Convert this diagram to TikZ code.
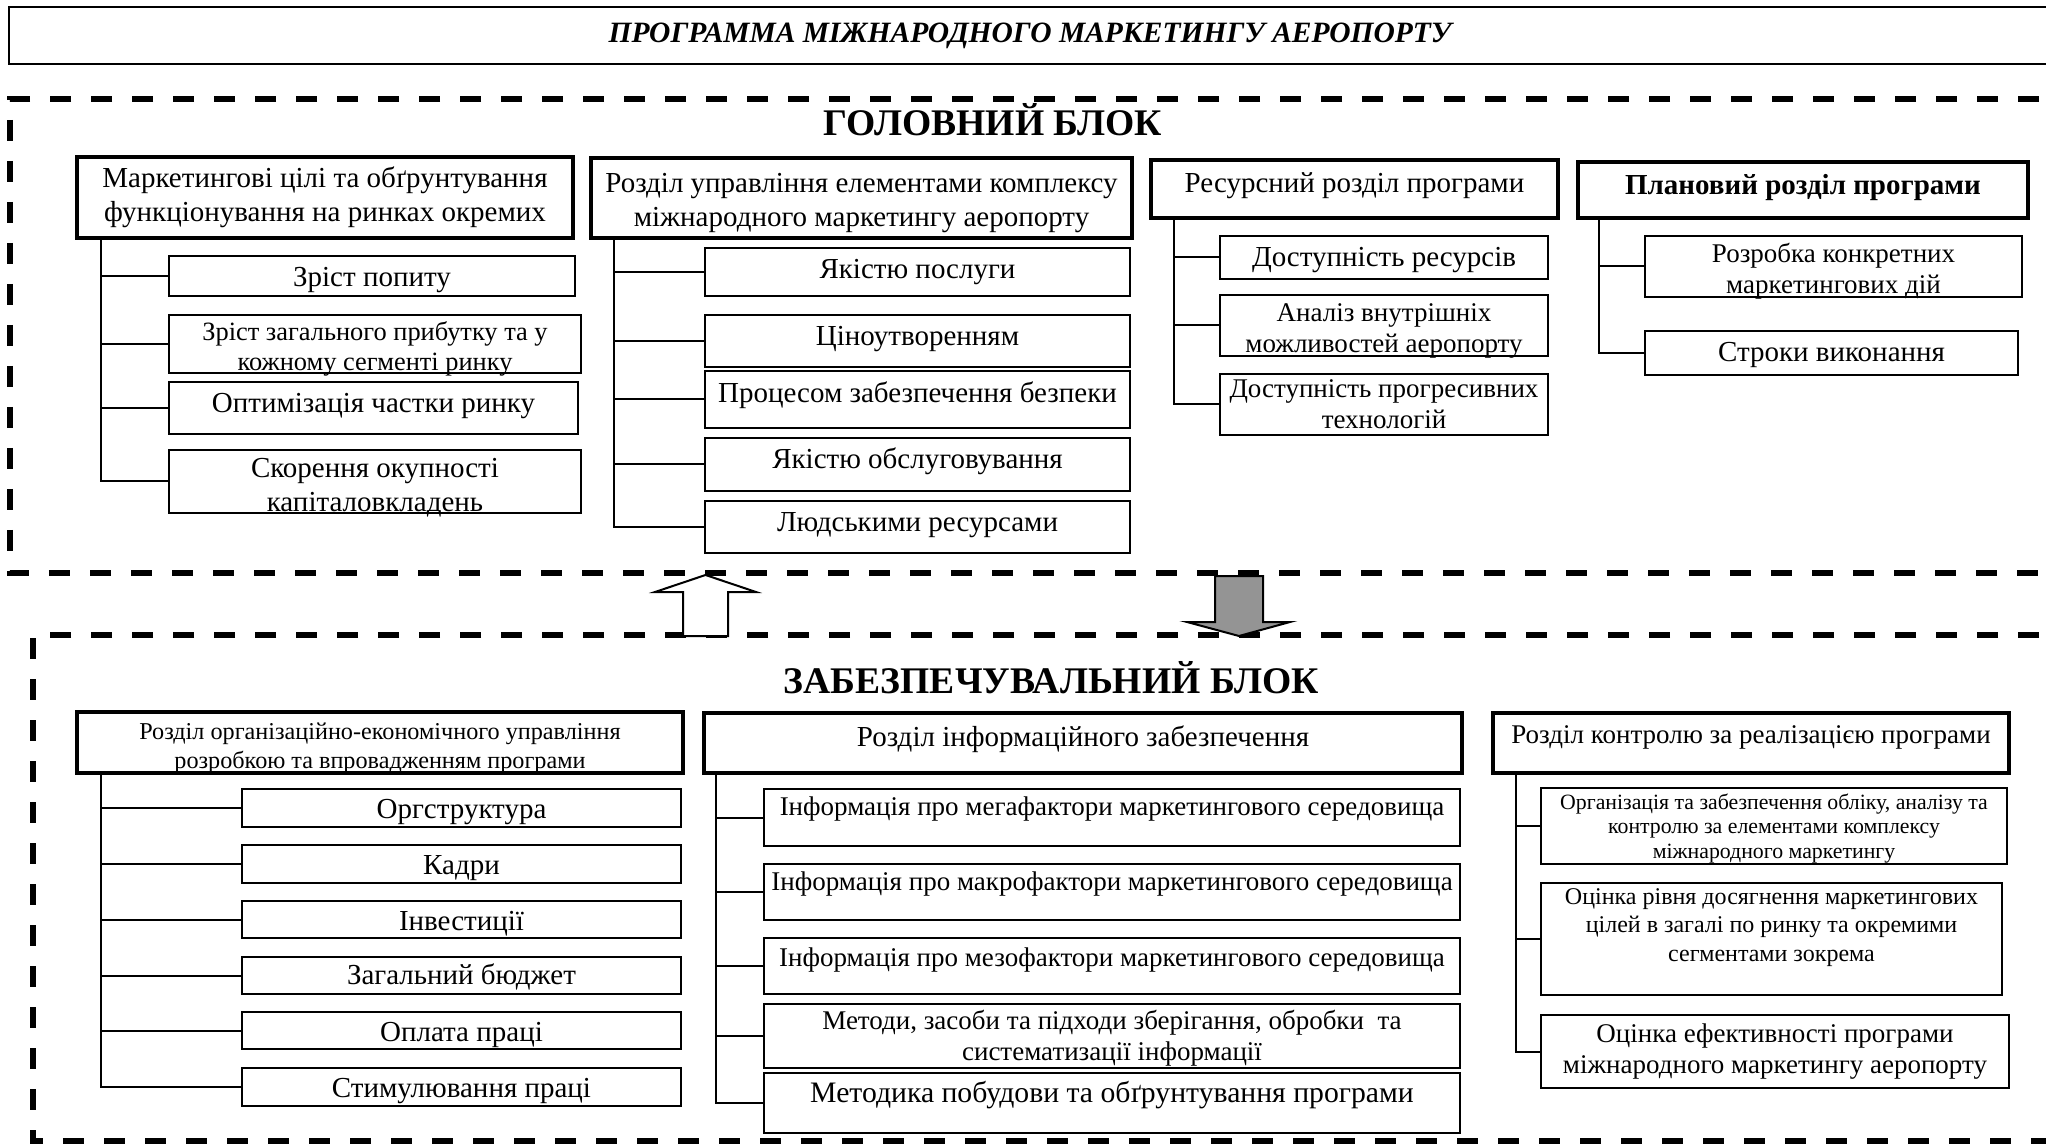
\documentclass[tikz,border=0pt]{standalone}
\usepackage{fontspec}
\setmainfont{Liberation Serif}
\usetikzlibrary{calc}

\begin{document}
\begin{tikzpicture}[x=0.5pt,y=-0.5pt,
    every node/.style={inner sep=0pt,align=center,font=\fontsize{14.5}{17}\selectfont},
    dims/.style 2 args={minimum width=#1*0.5pt,minimum height=#2*0.5pt},
    fs/.style 2 args={font=\fontsize{#1}{#2}\selectfont},
    tpos/.style 2 args={text height=#1,text depth=#2},
    secbox/.style={draw,line width=2.3pt,fill=white},
    itembox/.style={draw,line width=1pt,fill=white},
    wire/.style={line width=1pt},
    zone/.style={line width=2.6pt,dash pattern=on 10.5pt off 10pt},
    blockhd/.style={font=\fontsize{18.8}{20}\selectfont\bfseries},
    hollowarr/.style={draw,line width=1pt,fill=white},
    greyarr/.style={draw,line width=1pt,fill=black!42}]

    \useasboundingbox (0,0) rectangle (2046,1144);
    \clip (0,0) rectangle (2046,1144);

    \draw[zone] (2080,99) -- (10,99) -- (10,573) -- (2080,573);
    \draw[zone] (2080,635) -- (33,635) -- (33,1141) -- (2080,1141);

    \draw[hollowarr] (683,636) -- (683,592) -- (655,592) -- (705.5,575) -- (756,592)
        -- (728,592) -- (728,636) -- cycle;
    \draw[greyarr] (1215,576) -- (1263,576) -- (1263,622) -- (1290,622) -- (1239,636)
        -- (1187,622) -- (1215,622) -- cycle;

    \node[draw,line width=1.3pt,dims={2042}{57},font=\fontsize{14.75}{17}\selectfont\bfseries\itshape]
        (prog) at (1030,35.5) {ПРОГРАММА МІЖНАРОДНОГО МАРКЕТИНГУ АЕРОПОРТУ};

    \node[blockhd] (hmain) at (993,119.5) {ГОЛОВНИЙ БЛОК};
    \node[secbox,dims={496}{81}] (goals) at (325,197.5)
        {Маркетингові цілі та обґрунтування\\функціонування на ринках окремих};
    \node[secbox,dims={541}{80},tpos={28.4pt}{0pt}] (mix) at (861.5,198)
        {Розділ управління елементами комплексу\\міжнародного маркетингу аеропорту};
    \node[secbox,dims={407}{58},tpos={10pt}{6.5pt}] (res) at (1354.5,189) {Ресурсний розділ програми};
    \node[secbox,dims={450}{56},tpos={10pt}{5.5pt}] (plan) at (1803,190) {\textbf{Плановий розділ програми}};

    \node[itembox,dims={406}{40},tpos={14pt}{3.2pt}] (dem) at (372,276) {Зріст попиту};
    \node[itembox,dims={412}{58},fs={13.2}{15},tpos={26.6pt}{0pt}] (prof) at (375,344)
        {Зріст загального прибутку та у\\кожному сегменті ринку};
    \node[itembox,dims={409}{52},tpos={10pt}{5.8pt}] (share) at (373.5,408) {Оптимізація частки ринку};
    \node[itembox,dims={412}{63},tpos={30.4pt}{0pt}] (pay) at (375,481.5) {Скорення окупності\\капіталовкладень};

    \node[itembox,dims={425}{48}] (qs) at (917.5,272) {Якістю послуги};
    \node[itembox,dims={425}{52},tpos={10pt}{5.5pt}] (price) at (917.5,341) {Ціноутворенням};
    \node[itembox,dims={425}{57},tpos={10pt}{7pt}] (safe) at (917.5,399.5) {Процесом забезпечення безпеки};
    \node[itembox,dims={425}{53},tpos={10pt}{6pt}] (serv) at (917.5,464.5) {Якістю обслуговування};
    \node[itembox,dims={425}{52},tpos={10pt}{5.5pt}] (hr) at (917.5,527) {Людськими ресурсами};

    \node[itembox,dims={328}{43},tpos={12.6pt}{3.2pt}] (avail) at (1384,257.5) {Доступність ресурсів};
    \node[itembox,dims={328}{61},fs={13.5}{15.5},tpos={27pt}{0pt}] (intern) at (1384,325.5)
        {Аналіз внутрішніх\\можливостей аеропорту};
    \node[itembox,dims={328}{61},fs={13.5}{15.5},tpos={24.4pt}{0pt}] (tech) at (1384,404.5)
        {Доступність прогресивних\\технологій};

    \node[itembox,dims={377}{61},fs={13.5}{15.5},tpos={27pt}{0pt}] (acts) at (1833.5,266.5)
        {Розробка конкретних\\маркетингових дій};
    \node[itembox,dims={373}{44},tpos={11.3pt}{3.2pt}] (terms) at (1831.5,353) {Строки виконання};

    \node[blockhd] (hsup) at (1051,677.5) {ЗАБЕЗПЕЧУВАЛЬНИЙ БЛОК};
    \node[secbox,dims={606}{61},fs={12.1}{14.3},tpos={25.7pt}{0pt}] (org) at (380,742.5)
        {Розділ організаційно-економічного управління\\розробкою та впровадженням програми};
    \node[secbox,dims={758}{60},tpos={10pt}{6.5pt}] (info) at (1083,743) {Розділ інформаційного забезпечення};
    \node[secbox,dims={516}{60},fs={13.5}{15.5},tpos={10pt}{9.1pt}] (ctrl) at (1751,743)
        {Розділ контролю за реалізацією програми};

    \node[itembox,dims={439}{38},tpos={14pt}{3.2pt}] (struct) at (461.5,808) {Оргструктура};
    \node[itembox,dims={439}{38},tpos={14pt}{3.2pt}] (staff) at (461.5,864) {Кадри};
    \node[itembox,dims={439}{37},tpos={14pt}{3.2pt}] (inv) at (461.5,919.5) {Інвестиції};
    \node[itembox,dims={439}{37},tpos={12.6pt}{3.2pt}] (budg) at (461.5,975.5) {Загальний бюджет};
    \node[itembox,dims={439}{37},tpos={14pt}{3.2pt}] (wage) at (461.5,1030.5) {Оплата праці};
    \node[itembox,dims={439}{38},tpos={14pt}{3.2pt}] (stim) at (461.5,1087) {Стимулювання праці};

    \node[itembox,dims={696}{57},fs={13.5}{15.5},tpos={10pt}{12pt}] (mega) at (1112,817.5)
        {Інформація про мегафактори маркетингового середовища};
    \node[itembox,dims={696}{56},fs={13.5}{15.5},tpos={10pt}{12pt}] (macro) at (1112,892)
        {Інформація про макрофактори маркетингового середовища};
    \node[itembox,dims={696}{56},fs={13.5}{15.5},tpos={10pt}{10pt}] (meso) at (1112,966)
        {Інформація про мезофактори маркетингового середовища};
    \node[itembox,dims={696}{64},fs={13.5}{15.5},tpos={24.4pt}{0pt}] (meth) at (1112,1036)
        {Методи, засоби та підходи зберігання, обробки~ та\\систематизації інформації};
    \node[itembox,dims={696}{60},fs={14.85}{17},tpos={10pt}{10.9pt}] (plm) at (1112,1103)
        {Методика побудови та обґрунтування програми};

    \node[itembox,dims={466}{76},fs={10.9}{12.2},tpos={32.3pt}{0pt}] (acct) at (1774,826)
        {Організація та забезпечення обліку, аналізу та\\контролю за елементами комплексу\\міжнародного маркетингу};
    \node[itembox,dims={461}{112},fs={12}{14.3},tpos={22.2pt}{0pt}] (eval) at (1771.5,939)
        {Оцінка рівня досягнення маркетингових\\цілей в загалі по ринку та окремими\\сегментами зокрема};
    \node[itembox,dims={468}{73},fs={13.5}{15.5}] (eff) at (1775,1051.5)
        {Оцінка ефективності програми\\міжнародного маркетингу аеропорту};

    \foreach \k in {dem,prof,share,pay}
        \draw[wire] ($(goals.south west)+(26,0)$) |- (\k.west);
    \foreach \k in {qs,price,safe,serv,hr}
        \draw[wire] ($(mix.south west)+(25,0)$) |- (\k.west);
    \foreach \k in {avail,intern,tech}
        \draw[wire] ($(res.south west)+(25,0)$) |- (\k.west);
    \foreach \k in {acts,terms}
        \draw[wire] ($(plan.south west)+(23,0)$) |- (\k.west);
    \foreach \k in {struct,staff,inv,budg,wage,stim}
        \draw[wire] ($(org.south west)+(26,0)$) |- (\k.west);
    \foreach \k in {mega,macro,meso,meth,plm}
        \draw[wire] ($(info.south west)+(14,0)$) |- (\k.west);
    \foreach \k in {acct,eval,eff}
        \draw[wire] ($(ctrl.south west)+(25,0)$) |- (\k.west);
\end{tikzpicture}
\end{document}
